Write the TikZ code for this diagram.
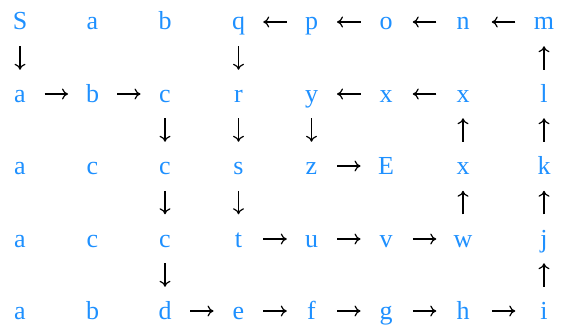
\documentclass[tikz,border=0pt]{standalone}
\usepackage{fontspec}
\setmainfont{Liberation Serif}
\usepackage{tikz}
\usetikzlibrary{calc,arrows.meta}
\definecolor{letterblue}{RGB}{30,144,255}

\begin{document}
\begin{tikzpicture}[x=1pt,y=-1pt,
    sym/.style={text=letterblue,font=\fontsize{26}{30}\selectfont,inner sep=0pt,
      anchor=base,text height=16pt,text depth=0pt},
    conn/.style={-{Computer Modern Rightarrow[length=6pt,width=11pt]},line width=1.2pt,black}]
  \useasboundingbox (0,0) rectangle (561,329);
  % column centres and row baselines, measured off the grid
  \def\colxs{{20,92.5,165,238.5,311.5,386,463,544}}
  \def\rowys{{30,102,174,247,319}}
  % the five rows of letters, named r<row>c<column>
  \foreach \row [count=\r from 0] in {{S,a,b,q,p,o,n,m},{a,b,c,r,y,x,x,l},{a,c,c,s,z,E,x,k},{a,c,c,t,u,v,w,j},{a,b,d,e,f,g,h,i}}{
    \foreach \lab [count=\c from 0] in \row {
      \pgfmathsetmacro{\xx}{\colxs[\c]}\pgfmathsetmacro{\yy}{\rowys[\r]}
      \node[sym] (r\r c\c) at (\xx,\yy) {\lab};
    }
  }
  % arrows: a short fixed length, centred between the two letters
  \foreach \a/\b in {r0c4/r0c3,r0c5/r0c4,r0c6/r0c5,r0c7/r0c6,
      r0c0/r1c0,r0c3/r1c3,r1c7/r0c7,
      r1c0/r1c1,r1c1/r1c2,r1c5/r1c4,r1c6/r1c5,
      r1c2/r2c2,r1c3/r2c3,r1c4/r2c4,r2c6/r1c6,r2c7/r1c7,
      r2c4/r2c5,
      r2c2/r3c2,r2c3/r3c3,r3c6/r2c6,r3c7/r2c7,
      r3c3/r3c4,r3c4/r3c5,r3c5/r3c6,
      r3c2/r4c2,r4c7/r3c7,
      r4c2/r4c3,r4c3/r4c4,r4c4/r4c5,r4c5/r4c6,r4c6/r4c7}
    \draw[conn] ($(\a)!0.5!(\b)!11.75pt!(\a)$) -- ($(\a)!0.5!(\b)!11.75pt!(\b)$);
\end{tikzpicture}
\end{document}
